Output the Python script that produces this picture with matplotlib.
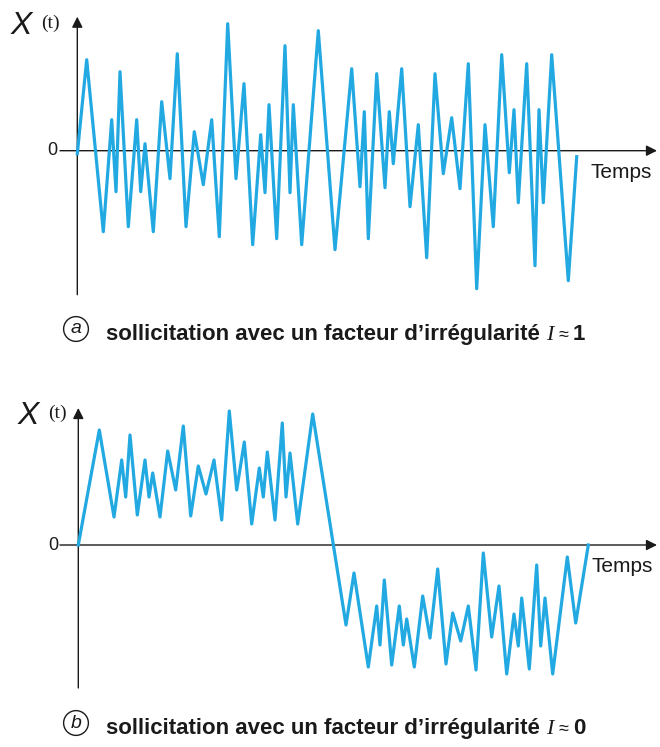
import matplotlib
matplotlib.use("Agg")
import matplotlib.pyplot as plt

plt.rcParams["font.family"] = ["Liberation Sans", "DejaVu Sans"]

# (a) irregular loading, I ~ 1  (time, amplitude)
t_a = [0, 9.4, 26, 34.4, 38.7, 42.7, 51, 59.4, 63.4, 67.7, 76, 84.4, 92.7, 100,
       108.7, 117, 126, 134.4, 142, 150.4, 158.7, 166.7, 175.4, 183.4, 187.7,
       191.7, 199.4, 207.7, 212.7, 216, 224.4, 241, 257.7, 274.4, 282.7, 287,
       291, 299.4, 307.7, 312, 316, 324.4, 332.7, 341, 349.4, 357.7, 366,
       374.4, 382.7, 391, 399.4, 407.7, 416, 424.4, 432, 436.7, 441, 449.4,
       457.7, 461.7, 466, 474.4, 491, 499.4]
x_a = [-3, 91, -81, 31, -41, 79, -76, 31, -41, 7, -81, 49, -28, 97, -76, 19,
       -34, 31, -86, 127, -28, 67, -94, 16, -42, 46, -88, 105, -42, 46, -94,
       120, -99, 82, -36, 39, -88, 77, -37, 39, -13, 82, -56, 26, -107, 77,
       -23, 33, -38, 87, -138, 26, -76, 96, -22, 41, -52, 87, -115, 41, -52,
       96, -130, -6]

# (b) regular loading, I ~ 0
t_b = [0, 21, 35.7, 43.4, 47.4, 51.7, 59, 66.7, 70.7, 74.4, 81.7, 89.4, 97.4,
       105, 112.4, 120, 127.7, 135.7, 143.4, 151, 158.4, 166, 173.4, 181, 185,
       189, 196.7, 204, 207.7, 211.7, 219.4, 234.4, 267.7, 275.7, 290, 298.4,
       301.7, 306, 313.4, 321, 325, 328.4, 336, 344.4, 351.7, 359.4, 367.7,
       374.4, 382.4, 390, 397.7, 405, 413.4, 420.7, 428.4, 435.7, 440, 443.4,
       451, 458.4, 462.4, 466.7, 474.4, 489, 497.4, 510]
x_b = [0, 115, 28, 85, 48, 110, 30, 85, 48, 72, 28, 94, 55, 119, 29, 79, 51,
       85, 25, 134, 55, 103, 21, 77, 48, 93, 25, 122, 48, 92, 21, 131, -80,
       -28, -122, -61, -100, -35, -120, -61, -100, -74, -122, -51, -93, -24,
       -119, -68, -96, -61, -125, -8, -92, -41, -129, -69, -101, -53, -124,
       -20, -101, -53, -129, -12, -78, 0]

W, H = 660, 747
blue = "#22a9e2"
ink = "#1a1a1a"

fig = plt.figure(figsize=(6.6, 7.47), dpi=100)


def px(x, y):
    return x / W, 1 - y / H


def panel(left, top, right, bottom, x0, y0, y_low, y_high, t, x):
    ax = fig.add_axes([left / W, 1 - bottom / H, (right - left) / W, (bottom - top) / H])
    ax.set_xlim(left - x0, right - x0)
    ax.set_ylim(y0 - bottom, y0 - top)
    ax.axis("off")
    ax.plot(t, x, color=blue, lw=2.3, zorder=3)
    arrow = dict(arrowstyle="-|>", color=ink, lw=1.0, mutation_scale=16, shrinkA=0, shrinkB=0)
    ax.annotate("", xy=(657 - x0, 0), xytext=(60 - x0, 0), arrowprops=arrow, zorder=2)
    ax.annotate("", xy=(0, y_high), xytext=(0, y_low), arrowprops=arrow, zorder=2)
    ax.text(-20, 0, "0", ha="right", va="center", fontsize=13, color=ink)
    ax.text(513, -22, "Temps", ha="left", va="center", fontsize=15, color=ink)
    return ax


panel(60, 10, 660, 300, 77.3, 150.7, -144, 134, t_a, x_a)
panel(60, 400, 660, 695, 78.3, 545, -143, 137, t_b, x_b)

# X(t) labels
for xx, yy in [(11, 26), (18, 416)]:
    fig.text(*px(xx, yy), "X", fontsize=23, style="italic", ha="left", va="center", color=ink)
    fig.text(*px(xx + 30, yy - 3), "(t)", fontsize=14, family="Liberation Serif",
             ha="left", va="center", color=ink)

fig.canvas.draw()
renderer = fig.canvas.get_renderer()


def caption(yb, letter, value):
    fig.text(*px(76, yb - 11), letter, fontsize=14, style="italic", ha="center", va="center",
             color=ink, bbox=dict(boxstyle="circle,pad=0.2", fc="white", ec=ink, lw=1.0))
    t1 = fig.text(*px(106, yb), "sollicitation avec un facteur d’irrégularité",
                  fontsize=16, fontweight="bold", va="baseline", color=ink)
    x = t1.get_window_extent(renderer).x1 + 6
    t2 = fig.text(x / W, 1 - yb / H, "I", fontsize=16, style="italic",
                  family="Liberation Serif", va="baseline", color=ink)
    x = t2.get_window_extent(renderer).x1 + 5
    t3 = fig.text(x / W, 1 - yb / H, "≈", fontsize=13, va="baseline", color=ink)
    x = t3.get_window_extent(renderer).x1 + 5
    fig.text(x / W, 1 - yb / H, value, fontsize=16, fontweight="bold", va="baseline", color=ink)


caption(340, "a", "1")
caption(734, "b", "0")

fig.savefig("out.png", dpi=100)
